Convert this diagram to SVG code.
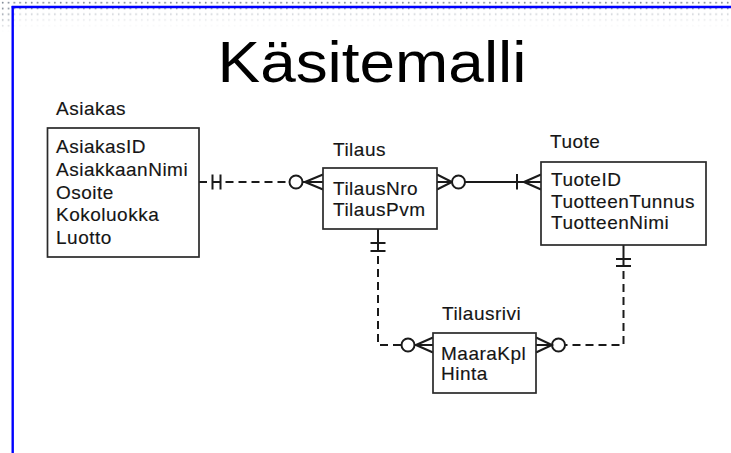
<svg xmlns="http://www.w3.org/2000/svg" width="731" height="453" viewBox="0 0 731 453">
  <defs>
    <pattern id="dots" x="0" y="0" width="5.8" height="5.8" patternUnits="userSpaceOnUse">
      <circle cx="2.7" cy="2.7" r="0.9" fill="#7d8794"/>
    </pattern>
    <linearGradient id="fade" x1="0" y1="0" x2="0" y2="1">
      <stop offset="0" stop-color="#fff" stop-opacity="0.35"/>
      <stop offset="1" stop-color="#fff" stop-opacity="1"/>
    </linearGradient>
    <linearGradient id="fadeOut" x1="0" y1="0" x2="0" y2="1">
      <stop offset="0" stop-color="#fff" stop-opacity="0"/>
      <stop offset="1" stop-color="#fff" stop-opacity="1"/>
    </linearGradient>
  </defs>
  <style>
    .ent { fill: #fff; stroke: #2a2a2a; stroke-width: 1.7; }
    .lbl { font-family: "Liberation Sans", Arial, sans-serif; font-size: 19px; fill: #151515; letter-spacing: 0.5px; stroke: #151515; stroke-width: 0.15; }
    .ln { fill: none; stroke: #1a1a1a; stroke-width: 2; }
    .dash { fill: none; stroke: #1a1a1a; stroke-width: 2; stroke-dasharray: 8 5; }
    .ring { fill: #fff; stroke: #1a1a1a; stroke-width: 2; }
    .title { font-family: "Liberation Sans", Arial, sans-serif; font-size: 58px; fill: #000; }
  </style>

  <!-- page background with dotted header band -->
  <rect width="731" height="453" fill="#fff"/>
  <rect x="0" y="0" width="731" height="32" fill="url(#dots)"/>
  <rect x="0" y="9" width="731" height="23" fill="url(#fadeOut)"/>
  <rect x="14" y="9" width="717" height="23" fill="url(#fade)"/>

  <!-- frame lines -->
  <g id="frame">
    <line x1="11.7" y1="7" x2="731" y2="7" stroke="#0000ff" stroke-width="2.4"/>
    <line x1="12.7" y1="6" x2="12.7" y2="453" stroke="#0000ff" stroke-width="2.4"/>
  </g>

  <text class="title" x="372" y="82" text-anchor="middle" textLength="309" lengthAdjust="spacingAndGlyphs">Käsitemalli</text>

  <!-- relationships -->
  <g id="connectors">
    <!-- Asiakas to Tilaus: one and only one / zero or many -->
    <path class="ln" d="M199,182 H207"/>
    <path class="ln" d="M212.5,182 H220.5 M212.5,174.5 V189.5 M220.5,174.5 V189.5"/>
    <path class="dash" d="M225.5,182 H289.5"/>
    <circle class="ring" cx="296" cy="182" r="6.5"/>
    <path class="ln" d="M302.5,182 H323 M305,182 L323,174.5 M305,182 L323,189.5"/>

    <!-- Tilaus to Tuote: zero or many / one or many -->
    <path class="ln" d="M437,174.5 L452,182 L437,189.5 M437,182 H452"/>
    <circle class="ring" cx="458.5" cy="182" r="6.5"/>
    <path class="ln" d="M465,182 H541 M517,174 V189.5 M524,182 L541,174.5 M524,182 L541,189.5"/>

    <!-- Tilaus to Tilausrivi -->
    <path class="ln" d="M378,229 V251 M370.5,243 H385.5 M370.5,251 H385.5"/>
    <path class="dash" d="M378,256 V345 H401.5"/>
    <circle class="ring" cx="408" cy="345" r="6.5"/>
    <path class="ln" d="M414.5,345 H433 M416,345 L433,337.5 M416,345 L433,352.5"/>

    <!-- Tuote to Tilausrivi -->
    <path class="ln" d="M623.5,245 V266 M616,259 H631 M616,266 H631"/>
    <path class="dash" d="M623.5,271 V345 H565"/>
    <circle class="ring" cx="558.5" cy="345" r="6.5"/>
    <path class="ln" d="M536,337.5 L552,345 L536,352.5 M536,345 H552"/>
  </g>

  <!-- entities -->
  <g id="asiakas">
    <text class="lbl" x="56" y="115">Asiakas</text>
    <rect class="ent" x="47.5" y="128" width="151.5" height="129"/>
    <text class="lbl" x="56" y="153">AsiakasID</text>
    <text class="lbl" x="56" y="176">AsiakkaanNimi</text>
    <text class="lbl" x="56" y="198.5">Osoite</text>
    <text class="lbl" x="56" y="221">Kokoluokka</text>
    <text class="lbl" x="56" y="243.5">Luotto</text>
  </g>

  <g id="tilaus">
    <text class="lbl" x="333" y="156">Tilaus</text>
    <rect class="ent" x="323" y="168" width="114" height="61"/>
    <text class="lbl" x="333" y="195">TilausNro</text>
    <text class="lbl" x="333" y="216">TilausPvm</text>
  </g>

  <g id="tuote">
    <text class="lbl" x="550" y="148">Tuote</text>
    <rect class="ent" x="541" y="162" width="165" height="83"/>
    <text class="lbl" x="551" y="186">TuoteID</text>
    <text class="lbl" x="551" y="207.5">TuotteenTunnus</text>
    <text class="lbl" x="551" y="229">TuotteenNimi</text>
  </g>

  <g id="tilausrivi">
    <text class="lbl" x="442" y="320">Tilausrivi</text>
    <rect class="ent" x="433" y="333" width="103" height="60"/>
    <text class="lbl" x="441" y="360">MaaraKpl</text>
    <text class="lbl" x="441" y="380">Hinta</text>
  </g>
</svg>
